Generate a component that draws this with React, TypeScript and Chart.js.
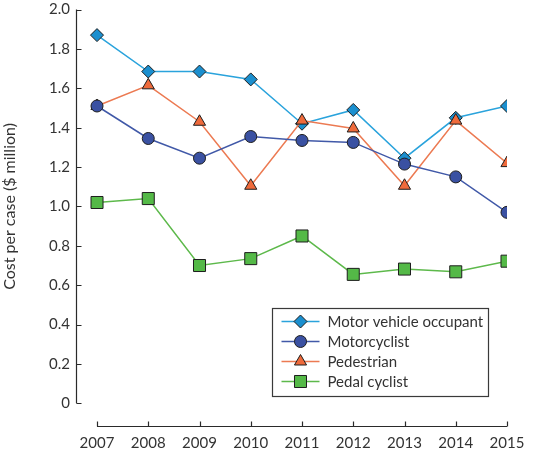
import React, { useEffect, useRef } from 'react';
import { Chart, registerables } from 'chart.js';
import { drawPoint } from 'chart.js/helpers';

Chart.register(...registerables);

const years = [2007, 2008, 2009, 2010, 2011, 2012, 2013, 2014, 2015];
const motorVehicleOccupant = [1.87, 1.685, 1.685, 1.645, 1.42, 1.49, 1.245, 1.45, 1.51];
const motorcyclist = [1.51, 1.345, 1.245, 1.355, 1.335, 1.325, 1.215, 1.15, 0.97];
const pedestrian = [1.51, 1.615, 1.43, 1.105, 1.436, 1.396, 1.105, 1.436, 1.22];
const pedalCyclist = [1.02, 1.04, 0.7, 0.735, 0.85, 0.655, 0.682, 0.668, 0.722];
const yTickValues = [0, 0.2, 0.4, 0.6, 0.8, 1.0, 1.2, 1.4, 1.6, 1.8, 2.0];
const seriesNames = ['Motor vehicle occupant', 'Motorcyclist', 'Pedestrian', 'Pedal cyclist'];
const yTitle = 'Cost per case ($ million)';

const FONT = 'Lato, "Open Sans", sans-serif';
const TEXT = '#333333';
const AXIS = '#2a2a2a';

const toPoints = (vals: number[]) => years.map((yr, i) => ({ x: yr, y: vals[i] }));

const customPlugin = {
  id: 'customAxesLegend',
  beforeDatasetsDraw(chart: any) {
    const { ctx, chartArea, scales } = chart;
    const x = scales.x;
    const y = scales.y;
    ctx.save();
    ctx.strokeStyle = AXIS;
    ctx.lineWidth = 1.2;
    const yl = Math.round(chartArea.left) + 0.5;
    ctx.beginPath();
    ctx.moveTo(yl, y.getPixelForValue(yTickValues[yTickValues.length - 1]));
    ctx.lineTo(yl, y.getPixelForValue(0));
    yTickValues.forEach((v) => {
      const py = Math.round(y.getPixelForValue(v)) + 0.5;
      ctx.moveTo(yl, py);
      ctx.lineTo(yl + 5, py);
    });
    ctx.stroke();
    const xb = Math.round(chartArea.bottom) - 0.5;
    ctx.beginPath();
    ctx.moveTo(x.getPixelForValue(years[0]), xb);
    ctx.lineTo(x.getPixelForValue(years[years.length - 1]), xb);
    years.forEach((yr) => {
      const px = Math.round(x.getPixelForValue(yr)) + 0.5;
      ctx.moveTo(px, xb);
      ctx.lineTo(px, xb - 5);
    });
    ctx.stroke();
    const midY = (y.getPixelForValue(0) + y.getPixelForValue(2)) / 2;
    ctx.translate(10, midY);
    ctx.rotate(-Math.PI / 2);
    ctx.fillStyle = TEXT;
    ctx.font = '16px ' + FONT;
    ctx.textAlign = 'center';
    ctx.textBaseline = 'middle';
    ctx.fillText(yTitle, 0, 0);
    ctx.restore();
  },
  afterDraw(chart: any) {
    const { ctx } = chart;
    const left = 272.5;
    const top = 308.5;
    const w = 216;
    const h = 88;
    ctx.save();
    ctx.fillStyle = '#ffffff';
    ctx.fillRect(left, top, w, h);
    ctx.strokeStyle = '#3a3a3a';
    ctx.lineWidth = 1.2;
    ctx.strokeRect(left, top, w, h);
    chart.data.datasets.forEach((ds: any, i: number) => {
      const ry = top + 13 + i * 20;
      ctx.strokeStyle = ds.borderColor;
      ctx.lineWidth = ds.borderWidth;
      ctx.beginPath();
      ctx.moveTo(left + 9, ry);
      ctx.lineTo(left + 47, ry);
      ctx.stroke();
      ctx.fillStyle = ds.pointBackgroundColor;
      ctx.strokeStyle = ds.pointBorderColor;
      ctx.lineWidth = ds.pointBorderWidth;
      drawPoint(ctx, { pointStyle: ds.pointStyle, radius: ds.pointRadius, rotation: 0, borderWidth: ds.pointBorderWidth } as any, left + 28, ry);
      ctx.fillStyle = TEXT;
      ctx.font = '15px ' + FONT;
      ctx.textAlign = 'left';
      ctx.textBaseline = 'middle';
      ctx.fillText(ds.label, left + 55, ry + 1);
    });
    ctx.restore();
  },
};

export default function App() {
  const canvasRef = useRef<HTMLCanvasElement | null>(null);

  useEffect(() => {
    if (!canvasRef.current) return;
    const mk = (label: string, vals: number[], line: string, fill: string, style: string, r: number, order: number) => ({
      label,
      data: toPoints(vals),
      borderColor: line,
      borderWidth: 1.5,
      backgroundColor: fill,
      pointBackgroundColor: fill,
      pointBorderColor: '#1e1e1e',
      pointBorderWidth: 1,
      pointStyle: style,
      pointRadius: r,
      pointHoverRadius: r,
      tension: 0,
      fill: false,
      order,
    });
    const chart = new Chart(canvasRef.current, {
      type: 'line',
      data: {
        datasets: [
          mk(seriesNames[0], motorVehicleOccupant, '#2aa3dc', '#1b8fcf', 'rectRot', 6.5, 4),
          mk(seriesNames[1], motorcyclist, '#4159a8', '#3a51a2', 'circle', 6, 2),
          mk(seriesNames[2], pedestrian, '#ec7a52', '#ef6a3b', 'triangle', 7, 3),
          mk(seriesNames[3], pedalCyclist, '#5db94b', '#54b947', 'rect', 8.5, 1),
        ],
      },
      options: {
        animation: false,
        responsive: true,
        maintainAspectRatio: false,
        layout: { padding: { top: 7, right: 48, bottom: 0, left: 0 } },
        plugins: { legend: { display: false }, tooltip: { enabled: false } },
        scales: {
          x: {
            type: 'linear',
            min: 2006.59,
            max: 2015,
            grid: { display: false, drawTicks: false },
            border: { display: false },
            ticks: {
              stepSize: 1,
              includeBounds: false,
              padding: 7,
              color: TEXT,
              font: { family: FONT, size: 15 },
              callback: (v: any) => String(v),
              maxRotation: 0,
            },
            afterFit: (s: any) => {
              s.height = 23;
            },
          },
          y: {
            type: 'linear',
            min: -0.12,
            max: 2.0,
            grid: { display: false, drawTicks: false },
            border: { display: false },
            afterBuildTicks: (s: any) => {
              s.ticks = yTickValues.map((v) => ({ value: v }));
            },
            ticks: {
              padding: 6,
              color: TEXT,
              font: { family: FONT, size: 15 },
              callback: (v: any) => (v === 0 ? '0' : Number(v).toFixed(1)),
            },
            afterFit: (s: any) => {
              s.width = 76;
              s.paddingTop = 0;
              s.paddingBottom = 0;
            },
          },
        },
      },
      plugins: [customPlugin],
    });
    return () => chart.destroy();
  }, []);

  return (
    <div style={{ position: 'absolute', left: 0, top: 0, width: 555, height: 450 }}>
      <canvas ref={canvasRef} />
    </div>
  );
}
